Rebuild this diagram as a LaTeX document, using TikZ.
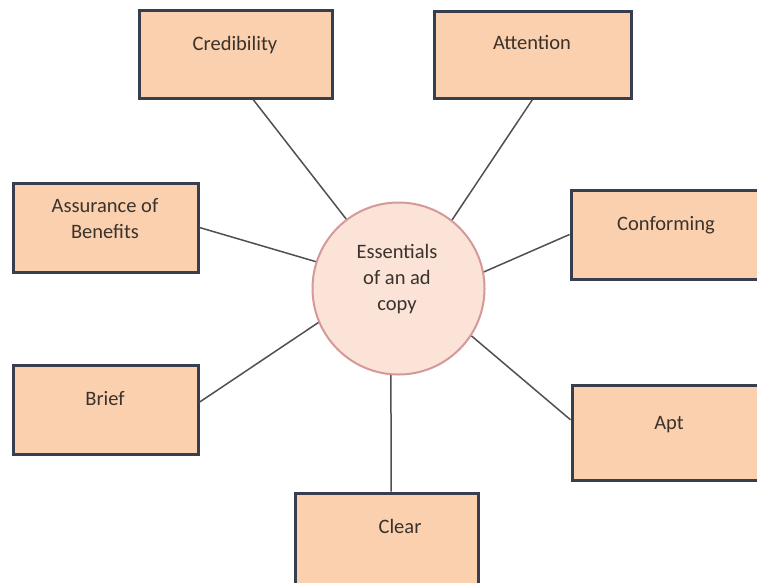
\documentclass[tikz,border=0pt]{standalone}
\usepackage{fontspec}
\setmainfont{Carlito}
\usetikzlibrary{calc}
\definecolor{boxfill}{RGB}{250,208,174}
\definecolor{boxline}{RGB}{55,62,78}
\definecolor{hubfill}{RGB}{251,227,216}
\definecolor{hubline}{RGB}{214,152,152}
\definecolor{wire}{RGB}{80,80,84}
\definecolor{ink}{RGB}{58,50,44}
\tikzset{
  box/.style={draw=boxline, fill=boxfill, line width=3pt, inner sep=0pt},
  hub/.style={circle, draw=hubline, fill=hubfill, line width=2pt, inner sep=0pt, minimum size=172pt},
  lbl/.style={text=ink, font=\fontsize{20.5}{26}\selectfont, inner sep=0pt, align=center},
  wire/.style={draw=wire, line width=1.5pt}
}
\begin{document}
\begin{tikzpicture}[x=1pt,y=-1pt]
\clip (0,0) rectangle (757,582);
\fill[white] (0,0) rectangle (757,582);

% central circle
\node[hub] (hub) at (398.5,288.5) {};
\node[lbl] (hubT) at (397,279) {Essentials\\of an ad\\copy};

% surrounding boxes
\node[box, minimum width=193pt, minimum height=88pt] (cred) at (235.5,54) {};
\node[box, minimum width=197pt, minimum height=87pt] (attn) at (532.5,54.5) {};
\node[box, minimum width=185pt, minimum height=89pt] (assur) at (105.5,227.5) {};
\node[box, minimum width=199pt, minimum height=89pt] (conf) at (670.5,234.5) {};
\node[box, minimum width=185pt, minimum height=89pt] (brief) at (105.5,409.5) {};
\node[box, minimum width=198pt, minimum height=95pt] (apt) at (671,432.5) {};
\node[box, minimum width=183pt, minimum height=107pt] (clear) at (386.5,546.5) {};

% box labels
\node[lbl, anchor=base] (credT) at (235,50) {Credibility};
\node[lbl, anchor=base] (attnT) at (532,49) {Attention};
\node[lbl] (assurT) at (105,219) {Assurance of\\Benefits};
\node[lbl, anchor=base] (confT) at (666,230) {Conforming};
\node[lbl, anchor=base] (briefT) at (105,405) {Brief};
\node[lbl, anchor=base] (aptT) at (669,429) {Apt};
\node[lbl, anchor=base] (clearT) at (400,533) {Clear};

% connectors from the boxes to the circle
\draw[wire] ($(cred.south west)!0.59!(cred.south east)$) -- (hub.127);
\draw[wire] (attn.south) -- (hub.52);
\draw[wire] (assur.east) -- (hub.162);
\draw[wire] (conf.west) -- (hub.11);
\draw[wire] ($(brief.north east)!0.42!(brief.south east)$) -- (hub.203);
\draw[wire] ($(apt.north west)!0.37!(apt.south west)$) -- (hub.-33);
\draw[wire] ($(clear.north west)!0.525!(clear.north east)$) -- (hub.265);
\end{tikzpicture}
\end{document}
